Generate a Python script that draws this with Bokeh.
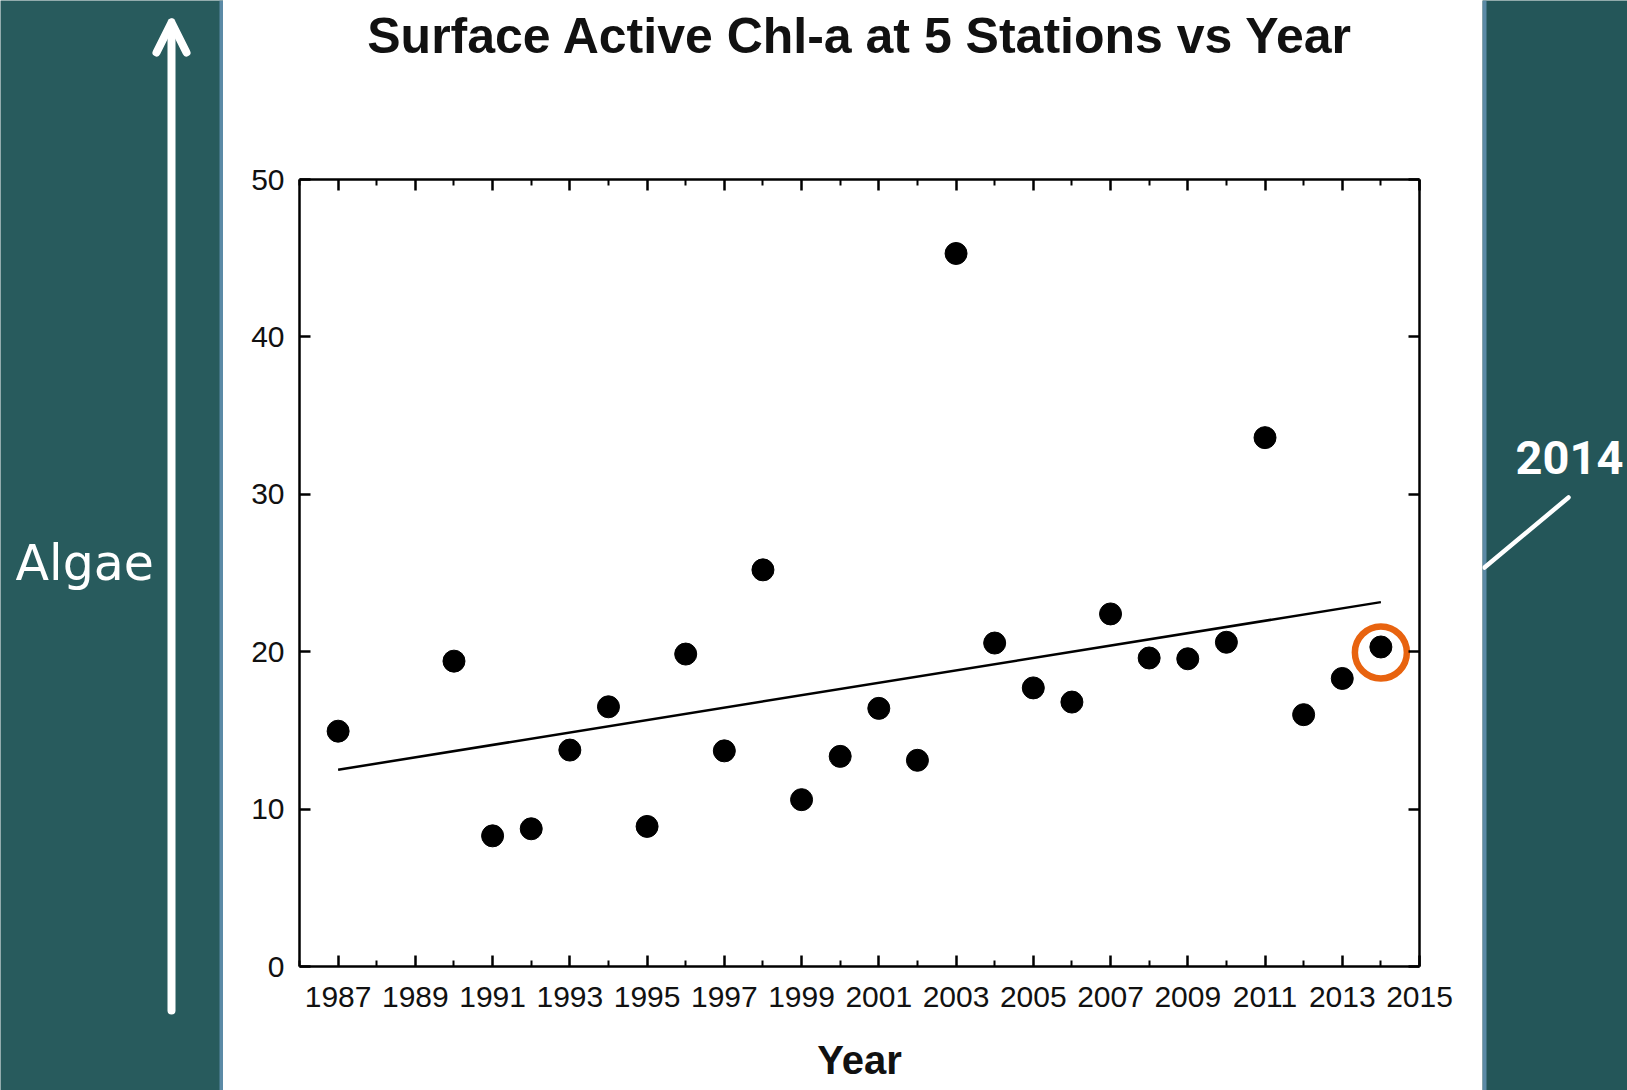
from bokeh.plotting import figure
from bokeh.layouts import row, column
from bokeh.models import (Range1d, LinearAxis, FixedTicker, Label, Arrow, OpenHead,
                          CustomJSTickFormatter)
from bokeh.embed import file_html
from bokeh.resources import INLINE

# ---------------- data ----------------
years = [1987, 1990, 1991, 1992, 1993, 1994, 1995, 1996, 1997, 1998, 1999, 2000,
         2001, 2002, 2003, 2004, 2005, 2006, 2007, 2008, 2009, 2010, 2011, 2012,
         2013, 2014]
chl = [14.95, 19.4, 8.3, 8.75, 13.75, 16.5, 8.9, 19.85, 13.7, 25.2, 10.6, 13.35,
       16.4, 13.1, 45.3, 20.55, 17.7, 16.8, 22.4, 19.6, 19.55, 20.6, 33.6, 16.0,
       18.3, 20.3]
trend_years = [1987, 2014]
trend_chl = [12.5, 23.15]
highlight_year = [2014]
highlight_chl = [19.95]
x_tick_years = list(range(1987, 2016, 2))
x_minor_years = list(range(1986, 2015, 2))
y_ticks = [0, 10, 20, 30, 40, 50]

title_text = "Surface Active Chl-a at 5 Stations vs Year"
x_label = "Year"
side_label = "Algae"
callout_label = "2014"

TEAL_L = "#285b5d"
TEAL_R = "#245659"
EDGE = "#5b8aa6"
FONT = "Liberation Sans"
TOTAL_H = 1090
MB_L, MB_R = 76, 63


def deco_fig(w, h, x0, x1, y0, y1, bg, **kw):
    opts = dict(min_border=0)
    opts.update(kw)
    f = figure(width=w, height=h, x_range=Range1d(x0, x1), y_range=Range1d(y1, y0),
               output_backend="svg", toolbar_location=None, tools="", title=None,
               x_axis_location=None, y_axis_location=None, **opts)
    f.grid.visible = False
    f.outline_line_color = None
    f.background_fill_color = bg
    f.border_fill_color = bg
    return f


# ---------------- left slide strip ----------------
left = deco_fig(223, TOTAL_H, 0, 223, 0, TOTAL_H, TEAL_L)
left.quad(left=[219], right=[223], bottom=[0], top=[TOTAL_H], fill_color=EDGE, line_color=None)
left.add_layout(Arrow(x_start=171, y_start=1010, x_end=171, y_end=22,
                      line_color="white", line_width=8, line_cap="round",
                      end=OpenHead(size=30, line_color="white", line_width=8,
                                   line_cap="round", line_join="round")))
left.add_layout(Label(x=15, y=563, text=side_label, text_align="left",
                      text_baseline="middle", text_font="DejaVu Sans",
                      text_font_size="49px", text_color="white"))

# ---------------- right slide strip ----------------
right = deco_fig(145, TOTAL_H, 1482, 1627, 0, TOTAL_H, TEAL_R)
right.quad(left=[1482], right=[1486], bottom=[0], top=[TOTAL_H], fill_color=EDGE, line_color=None)
right.add_layout(Arrow(x_start=1568, y_start=497, x_end=1484, y_end=567,
                       line_color="white", line_width=4.5, line_cap="round", end=None))
right.add_layout(Label(x=1515, y=457, text=callout_label, text_align="left",
                       text_baseline="middle", text_font="Roboto",
                       text_font_style="bold", text_font_size="47px", text_color="white"))

# ---------------- title strip (frame aligned with the chart frame) ----------------
tfig = deco_fig(1259, 100, 299, 1419, 0, 100, "white",
                min_border_left=MB_L, min_border_right=MB_R)
tfig.add_layout(Label(x=860, y=35, text=title_text, text_align="center",
                      text_baseline="middle", text_font=FONT,
                      text_font_style="bold", text_font_size="50px",
                      text_color="#111111"))

# ---------------- chart ----------------
p = figure(width=1259, height=990, output_backend="svg", toolbar_location=None, tools="",
           title=None, x_range=Range1d(1986, 2015), y_range=Range1d(0, 50),
           min_border_left=MB_L, min_border_right=MB_R,
           min_border_top=79, min_border_bottom=124)
p.grid.visible = False
p.outline_line_color = None
p.border_fill_color = "white"
p.background_fill_color = "white"


def style_axis(ax, labels=True):
    ax.axis_line_width = 2.5
    ax.axis_line_color = "black"
    ax.major_tick_in = 11
    ax.major_tick_out = 0
    ax.minor_tick_in = 6
    ax.minor_tick_out = 0
    ax.major_tick_line_width = 2.5
    ax.minor_tick_line_width = 2
    ax.major_tick_line_color = "black"
    ax.minor_tick_line_color = "black"
    if labels:
        ax.major_label_text_font = FONT
        ax.major_label_text_font_size = "30px"
        ax.major_label_text_color = "#111111"
    else:
        ax.formatter = CustomJSTickFormatter(code="return ''")
        ax.major_label_standoff = 0


xa = p.xaxis[0]
xa.ticker = FixedTicker(ticks=x_tick_years, minor_ticks=x_minor_years)
style_axis(xa)
xa.major_label_standoff = 20
xa.axis_label = x_label
xa.axis_label_text_font = FONT
xa.axis_label_text_font_style = "bold"
xa.axis_label_text_font_size = "40px"
xa.axis_label_text_color = "#111111"
xa.axis_label_standoff = 28

ya = p.yaxis[0]
ya.ticker = FixedTicker(ticks=y_ticks, minor_ticks=[])
style_axis(ya)
ya.major_label_standoff = 15

top_ax = LinearAxis(ticker=FixedTicker(ticks=x_tick_years, minor_ticks=x_minor_years))
style_axis(top_ax, labels=False)
p.add_layout(top_ax, "above")
right_ax = LinearAxis(ticker=FixedTicker(ticks=y_ticks, minor_ticks=[]))
style_axis(right_ax, labels=False)
p.add_layout(right_ax, "right")

p.line(trend_years, trend_chl, line_color="black", line_width=2.5)
p.scatter(years, chl, size=22, marker="circle", fill_color="black", line_color="black")
p.scatter(highlight_year, highlight_chl, size=52, marker="circle", fill_color=None,
          line_color="#e8630f", line_width=6.5)

layout = row(left, column(tfig, p, spacing=0), right, spacing=0)

open("out.html", "w").write(file_html(layout, INLINE))
